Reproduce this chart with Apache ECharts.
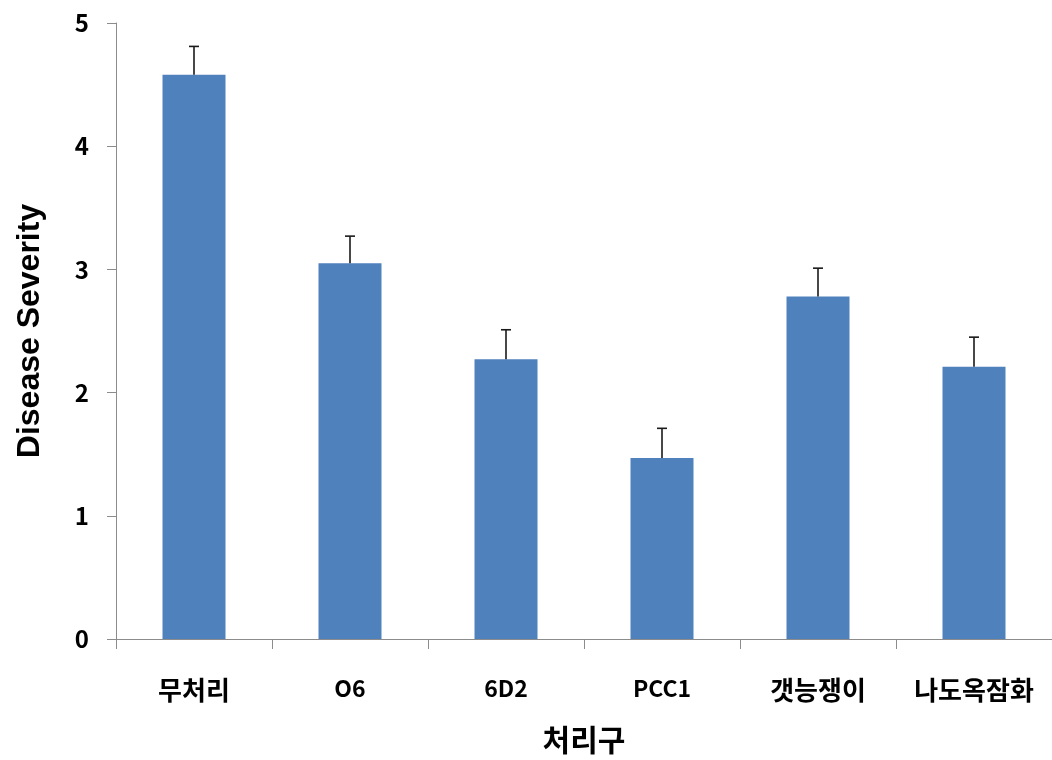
<!DOCTYPE html>
<html>
<head>
<meta charset="utf-8">
<script src="https://cdn.jsdelivr.net/npm/echarts@6/dist/echarts.min.js"></script>
<style>
  html, body { margin: 0; padding: 0; background: #fff; }
  #chart { width: 1052px; height: 760px; }
</style>
</head>
<body>
<div id="chart"></div>
<script>
// Treatment groups and their mean disease severity with standard error
const categories = ['무처리', 'O6', '6D2', 'PCC1', '갯능쟁이', '나도옥잠화'];
const severity = [4.58, 3.05, 2.27, 1.47, 2.78, 2.21];
const stdError = [0.23, 0.22, 0.24, 0.24, 0.23, 0.24];
const yTicks = [0, 1, 2, 3, 4, 5];

const krFont = '"Noto Sans CJK KR", "Noto Sans", sans-serif';
const axisGray = '#8c8c8c';

const chart = echarts.init(document.getElementById('chart'), null, { renderer: 'canvas' });

const errorData = severity.map((v, i) => [i, v, v + stdError[i]]);
const hangul = /[\uac00-\ud7a3]/;

chart.setOption({
  animation: false,
  backgroundColor: '#ffffff',
  grid: { left: 116, right: -6, top: 23, bottom: 121, containLabel: false },
  xAxis: {
    type: 'category',
    data: categories,
    boundaryGap: true,
    name: '처리구',
    nameLocation: 'middle',
    nameGap: 86,
    nameTextStyle: { fontFamily: krFont, fontWeight: 'bold', fontSize: 30, color: '#000' },
    axisLine: { lineStyle: { color: axisGray, width: 1 } },
    axisTick: { show: true, alignWithLabel: false, length: 10, lineStyle: { color: axisGray } },
    axisLabel: {
      margin: 38,
      formatter: function (v) { return hangul.test(v) ? '{kr|' + v + '}' : '{lt|' + v + '}'; },
      rich: {
        kr: { fontFamily: krFont, fontWeight: 'bold', fontSize: 26, color: '#000' },
        lt: { fontFamily: krFont, fontWeight: 'bold', fontSize: 23, color: '#000' }
      }
    },
    splitLine: { show: false }
  },
  yAxis: {
    type: 'value',
    min: yTicks[0],
    max: yTicks[yTicks.length - 1],
    interval: 1,
    name: 'Disease Severity',
    nameLocation: 'middle',
    nameGap: 70,
    nameRotate: 90,
    nameTextStyle: { fontFamily: '"Liberation Sans", Arial, sans-serif', fontWeight: 'bold', fontSize: 32, color: '#000' },
    axisLine: { show: true, lineStyle: { color: axisGray, width: 1 } },
    axisTick: { show: true, length: 9, lineStyle: { color: axisGray } },
    axisLabel: { fontFamily: krFont, fontWeight: 'bold', fontSize: 24, color: '#000', margin: 27 },
    splitLine: { show: false }
  },
  series: [
    {
      type: 'bar',
      data: severity,
      barWidth: 63,
      itemStyle: { color: '#4f81bd' },
      z: 2
    },
    {
      type: 'custom',
      data: errorData,
      z: 3,
      renderItem: function (params, api) {
        const x = api.value(0);
        const base = api.coord([x, api.value(1)]);
        const top = api.coord([x, api.value(2)]);
        const cap = 5;
        const style = { stroke: '#1a1a1a', lineWidth: 1.6 };
        return {
          type: 'group',
          children: [
            { type: 'line', shape: { x1: base[0], y1: base[1], x2: top[0], y2: top[1] }, style: style },
            { type: 'line', shape: { x1: top[0] - cap, y1: top[1], x2: top[0] + cap, y2: top[1] }, style: style }
          ]
        };
      }
    }
  ]
});
</script>
</body>
</html>
